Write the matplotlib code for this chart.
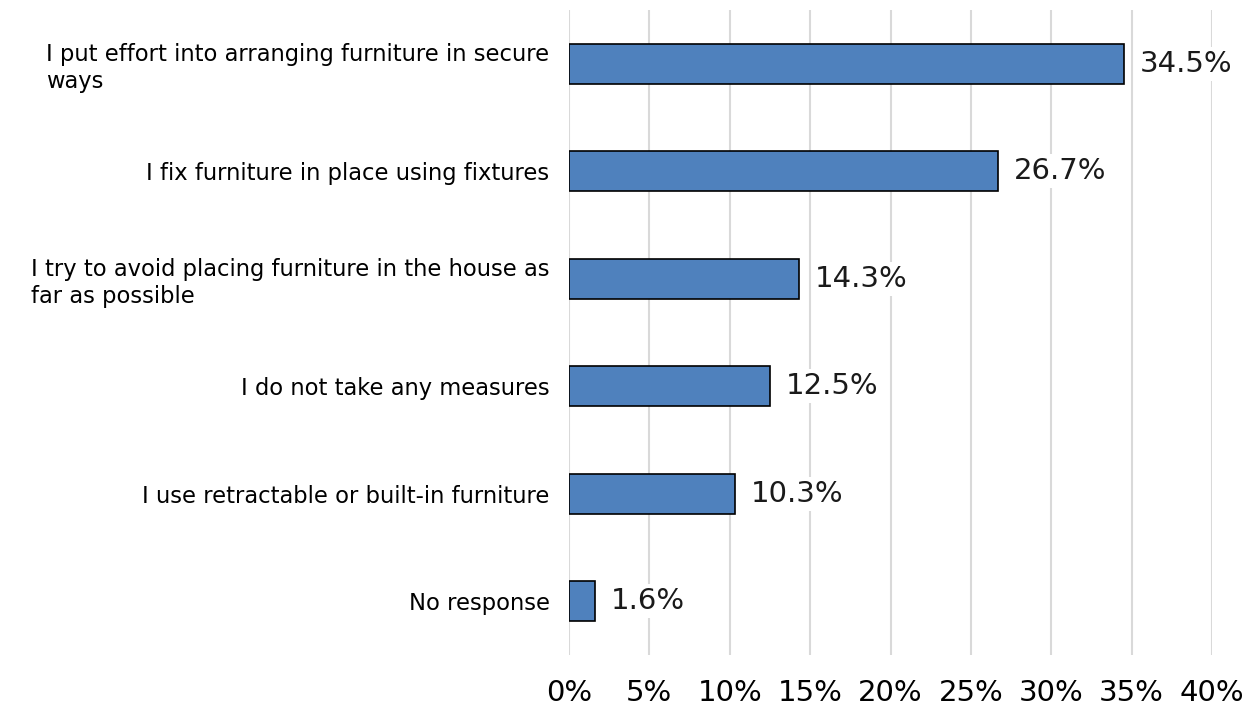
"""Furniture safety measures bar chart"""

import numpy as np
import matplotlib
matplotlib.use("Agg")
import matplotlib.pyplot as plt

plt.rcParams['font.family'] = ['DejaVu Sans']

categories = [
    "I put effort into arranging furniture in secure\nways",
    "I fix furniture in place using fixtures",
    "I try to avoid placing furniture in the house as\nfar as possible",
    "I do not take any measures",
    "I use retractable or built-in furniture",
    "No response",
]
values = [34.5, 26.7, 14.3, 12.5, 10.3, 1.6]
xticks = [0, 5, 10, 15, 20, 25, 30, 35, 40]

fig = plt.figure(figsize=(12.56, 7.05), dpi=100)
ax = fig.add_axes([0.453, 0.071, 0.512, 0.915])

y = np.arange(len(categories))
ax.barh(y, values, height=0.37, color='#4F81BD', edgecolor='black',
        linewidth=1.2, zorder=3)

# 値ラベル
for yi, v in zip(y, values):
    ax.text(v + 1.0, yi, f"{v}%", va='center', ha='left', fontsize=21,
            color='#1a1a1a', zorder=4,
            bbox=dict(facecolor='white', edgecolor='none', pad=2))

ax.set_xlim(0, 40)
ax.set_ylim(len(categories) - 0.5, -0.5)
ax.set_xticks(xticks)
ax.set_xticklabels([f"{t}%" for t in xticks], fontsize=21)
ax.set_yticks(y)
ax.set_yticklabels(categories, fontsize=16.3, multialignment='left',
                   linespacing=1.2)

ax.grid(axis='x', color='#d9d9d9', linewidth=1.5, zorder=0)
for s in ax.spines.values():
    s.set_visible(False)
ax.tick_params(axis='both', length=0)
ax.tick_params(axis='x', pad=17)
ax.tick_params(axis='y', pad=14)

fig.savefig("out.png", dpi=100)
